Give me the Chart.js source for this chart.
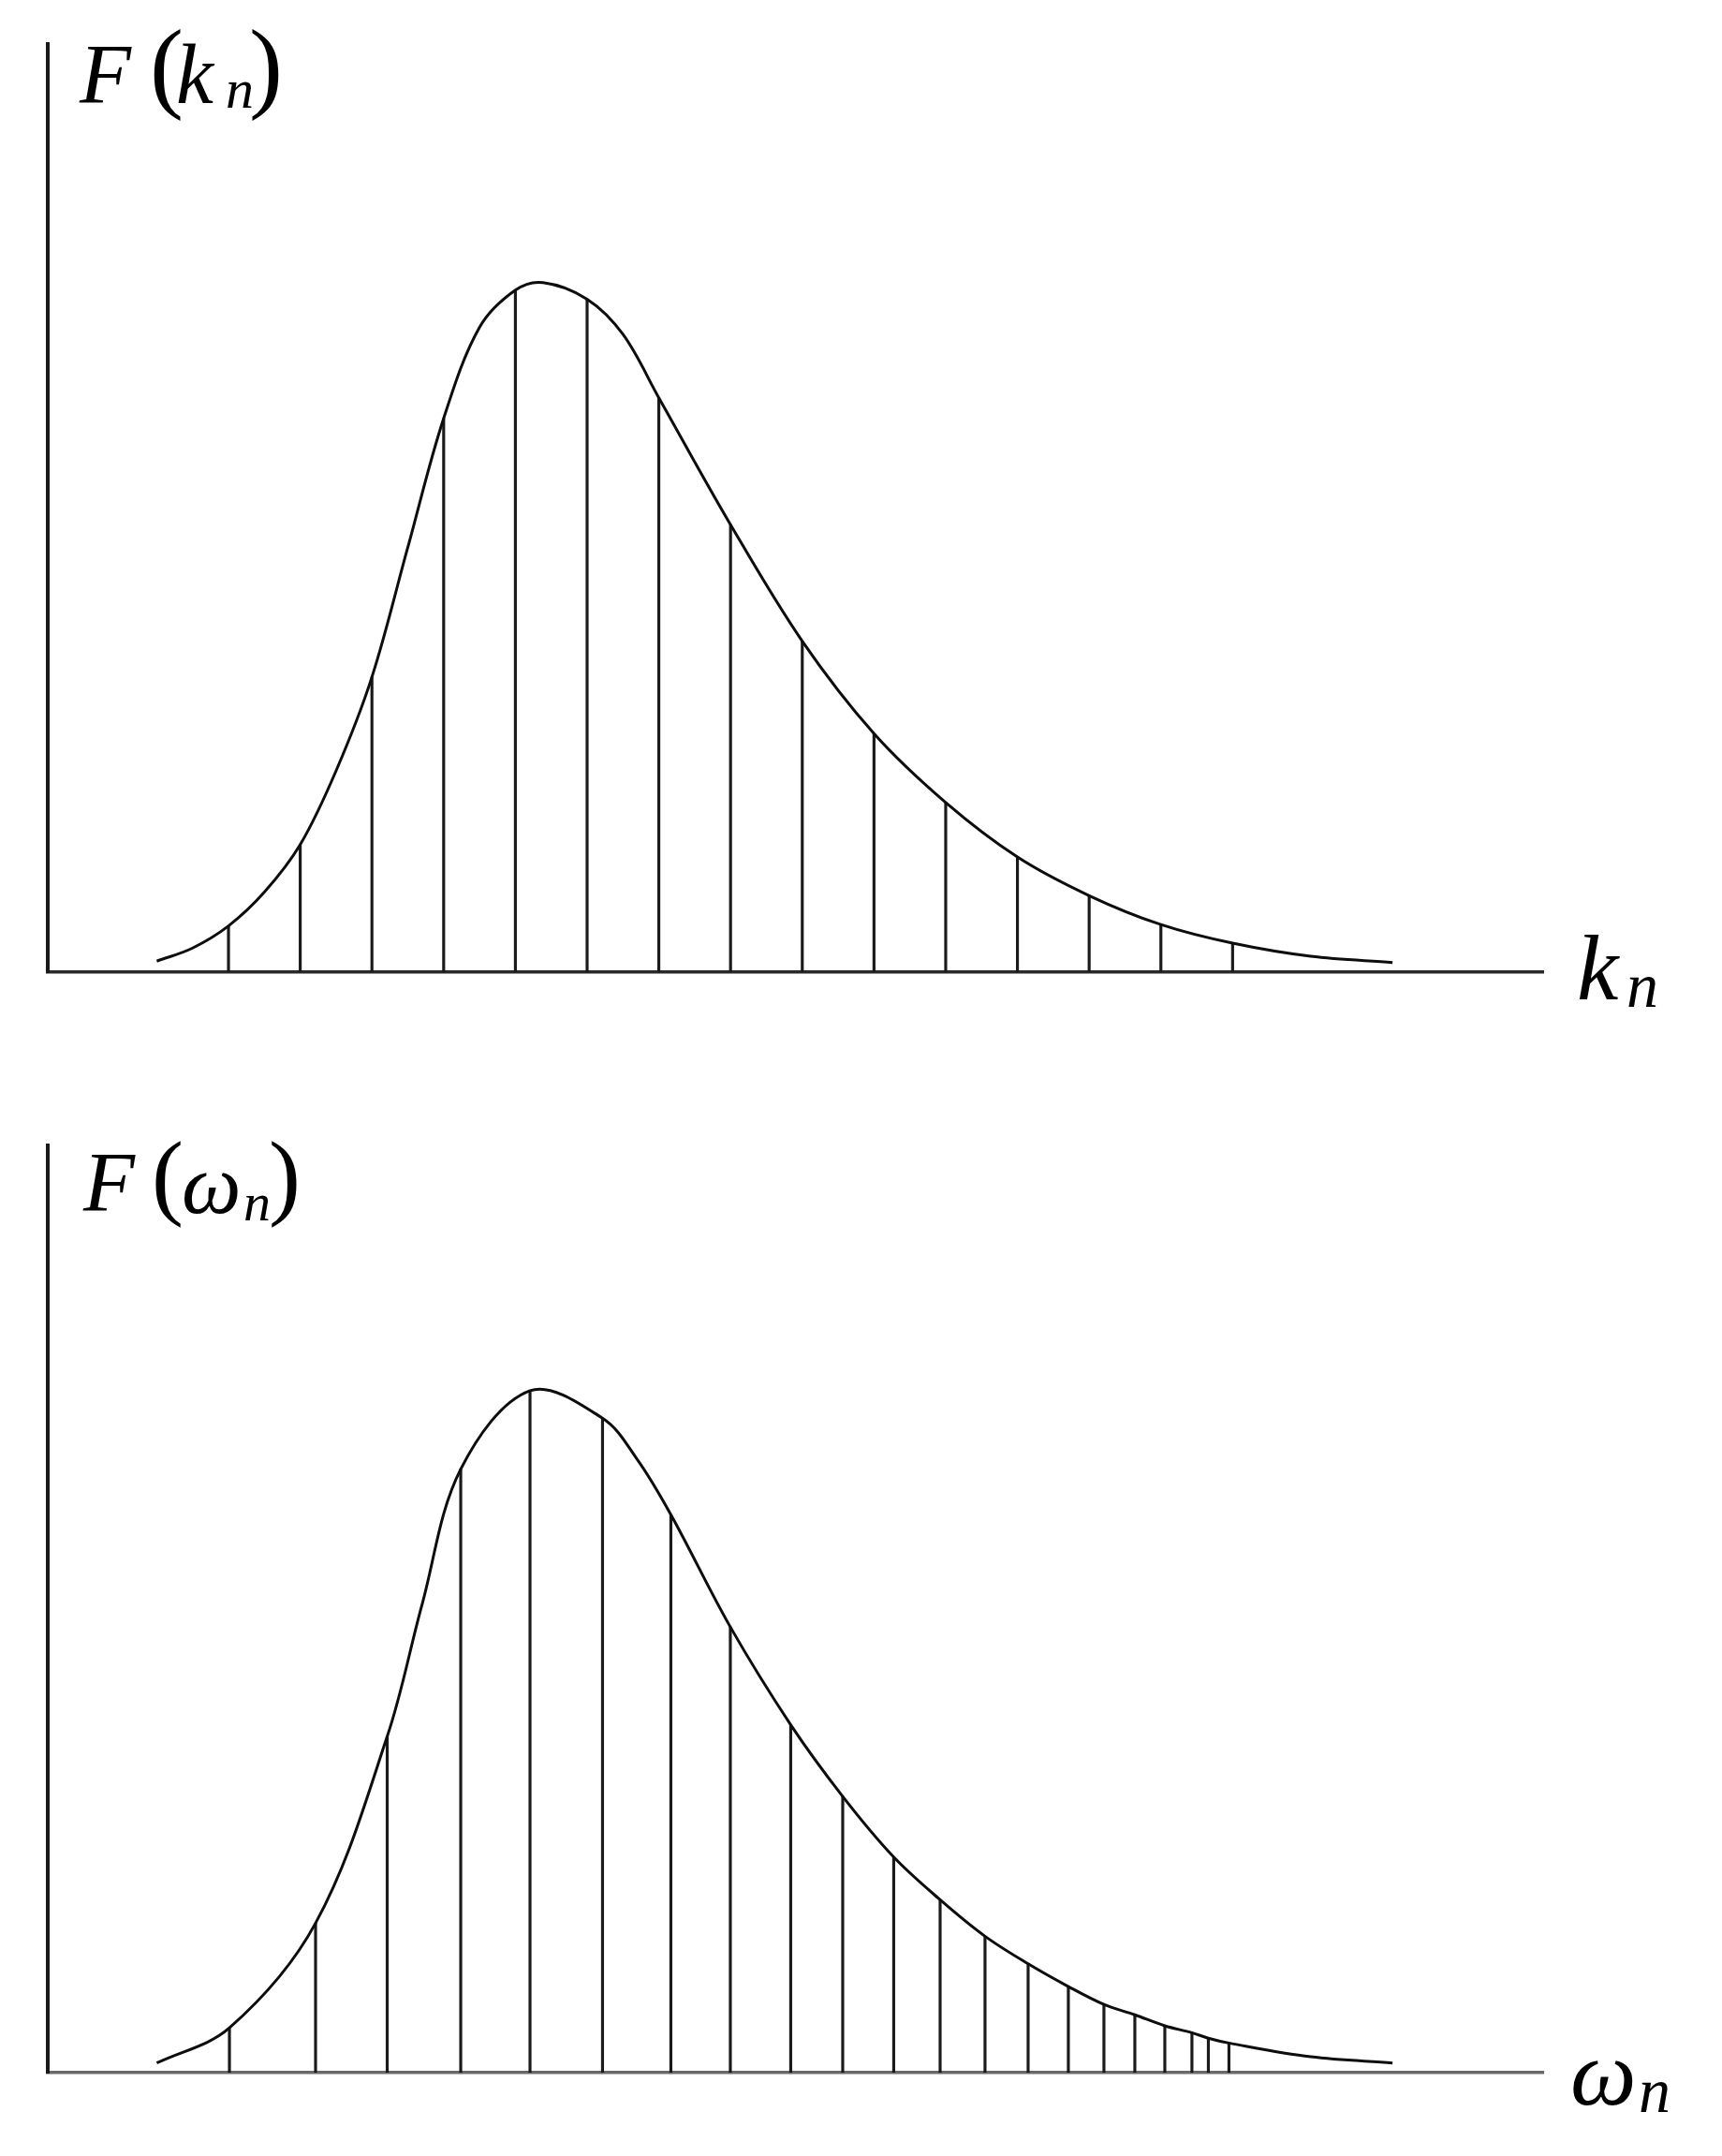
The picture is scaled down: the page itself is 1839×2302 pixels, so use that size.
<!DOCTYPE html>
<html><head><meta charset="utf-8">
<script src="https://cdn.jsdelivr.net/npm/chart.js@4.4.1/dist/chart.umd.min.js"></script>
<style>html,body{margin:0;padding:0;background:#fff;} canvas{display:block;}</style>
</head><body>
<canvas id="c1" width="1839" height="1151"></canvas>
<canvas id="c2" width="1839" height="1151"></canvas>
<script>
// ---- data (x in units of k-index spacing, y normalised to peak = 1) ----
const kPositions = [1, 2, 3, 4, 5, 6, 7, 8, 9, 10, 11, 12, 13, 14, 15];
const kValues = [0.067, 0.185, 0.428, 0.803, 0.989, 0.976, 0.833, 0.649, 0.480, 0.346, 0.246, 0.167, 0.111, 0.069, 0.042];
const kCurveX = [0, 0.5, 1, 1.5, 2, 2.5, 3, 3.5, 4, 4.5, 5, 5.385, 6, 6.5, 7, 8, 9, 10, 11, 12, 13, 14, 15, 16.09, 17.23];
const kCurveY = [0.016, 0.035, 0.067, 0.116, 0.185, 0.292, 0.428, 0.616, 0.803, 0.935, 0.989, 1.0, 0.976, 0.925, 0.833, 0.649, 0.480, 0.346, 0.246, 0.167, 0.111, 0.069, 0.042, 0.023, 0.014];

const wPositions = [1.013, 2.214, 3.213, 4.238, 5.204, 6.215, 7.168, 7.997, 8.839, 9.564, 10.275, 10.922, 11.548, 12.149, 12.710, 13.206, 13.637, 14.055, 14.433, 14.662, 14.949];
const wValues = [0.065, 0.217, 0.488, 0.876, 0.990, 0.950, 0.810, 0.647, 0.505, 0.401, 0.313, 0.251, 0.198, 0.158, 0.125, 0.099, 0.084, 0.068, 0.058, 0.050, 0.043];
const wCurveX = [0, 1.013, 2.214, 3.213, 3.7, 4.238, 5.204, 6.215, 6.7, 7.168, 7.997, 8.839, 9.564, 10.275, 10.922, 11.548, 12.149, 12.710, 13.206, 13.637, 14.055, 14.433, 14.662, 14.949, 16.09, 17.23];
const wCurveY = [0.014, 0.065, 0.217, 0.488, 0.680, 0.876, 0.990, 0.950, 0.890, 0.810, 0.647, 0.505, 0.401, 0.313, 0.251, 0.198, 0.158, 0.125, 0.099, 0.084, 0.068, 0.058, 0.050, 0.043, 0.023, 0.014];

const xRange = [-1.52, 19.33];
const yRange = [0, 1.346];

// ---- label plugin ----
const labelPlugin = {
  id: 'mathLabels',
  afterDraw(chart, args, opts) {
    const ctx = chart.ctx, a = chart.chartArea;
    ctx.save();
    ctx.fillStyle = '#000';
    ctx.textBaseline = 'alphabetic';
    ctx.textAlign = 'left';
    for (const p of opts.parts) {
      ctx.font = (p.italic ? 'italic ' : '') + p.size + 'px "Liberation Serif", "DejaVu Serif", serif';
      const x = (p.anchor === 'axisX' ? a.right : a.left) + p.dx;
      const y = (p.anchor === 'axisX' ? a.bottom : a.top) + p.dy;
      ctx.fillText(p.t, x, y);
    }
    ctx.restore();
  }
};

const topLabels = [
  {t: 'F', italic: true, size: 90, anchor: 'axisY', dx: 34, dy: 63},
  {t: '(', italic: false, size: 108, anchor: 'axisY', dx: 109, dy: 59},
  {t: 'k', italic: true, size: 90, anchor: 'axisY', dx: 137, dy: 63},
  {t: 'n', italic: true, size: 60, anchor: 'axisY', dx: 190, dy: 68},
  {t: ')', italic: false, size: 108, anchor: 'axisY', dx: 215, dy: 59},
  {t: 'k', italic: true, size: 100, anchor: 'axisX', dx: 36, dy: 29},
  {t: 'n', italic: true, size: 68, anchor: 'axisX', dx: 89, dy: 37}
];
const bottomLabels = [
  {t: 'F', italic: true, size: 90, anchor: 'axisY', dx: 38, dy: 70},
  {t: '(', italic: false, size: 102, anchor: 'axisY', dx: 111, dy: 66},
  {t: 'ω', italic: true, size: 90, anchor: 'axisY', dx: 143, dy: 72},
  {t: 'n', italic: true, size: 58, anchor: 'axisY', dx: 209, dy: 80},
  {t: ')', italic: false, size: 102, anchor: 'axisY', dx: 236, dy: 66},
  {t: 'ω', italic: true, size: 100, anchor: 'axisX', dx: 29, dy: 34},
  {t: 'n', italic: true, size: 68, anchor: 'axisX', dx: 102, dy: 42}
];

function makeChart(id, linePos, lineVals, curveX, curveY, labels, padding, xAxisColor) {
  const curve = curveX.map((x, i) => ({x: x, y: curveY[i]}));
  const stems = linePos.map((x, i) => ({x: x, y: lineVals[i]}));
  return new Chart(document.getElementById(id), {
    type: 'bar',
    data: {
      datasets: [
        {type: 'line', data: curve, borderColor: '#0d0d0d', borderWidth: 3, pointRadius: 0,
         tension: 0.35, fill: false},
        {type: 'bar', data: stems, backgroundColor: '#1a1a1a', barThickness: 2.5, borderWidth: 0}
      ]
    },
    options: {
      responsive: false, animation: false, events: [],
      layout: {padding: padding},
      plugins: {legend: {display: false}, tooltip: {enabled: false}, mathLabels: {parts: labels}},
      scales: {
        x: {type: 'linear', min: xRange[0], max: xRange[1], offset: false,
            grid: {display: false, drawTicks: false}, ticks: {display: false},
            border: {display: true, color: xAxisColor, width: 3.5}},
        y: {type: 'linear', min: yRange[0], max: yRange[1],
            grid: {display: false, drawTicks: false}, ticks: {display: false},
            border: {display: true, color: '#1a1a1a', width: 4}}
      }
    },
    plugins: [labelPlugin]
  });
}

makeChart('c1', kPositions, kValues, kCurveX, kCurveY, topLabels,
  {left: 51, top: 47, right: 191, bottom: 113}, '#2a2a2a');
makeChart('c2', wPositions, wValues, wCurveX, wCurveY, bottomLabels,
  {left: 51, top: 72, right: 191, bottom: 89}, '#6a6a6a');
</script>
</body></html>
